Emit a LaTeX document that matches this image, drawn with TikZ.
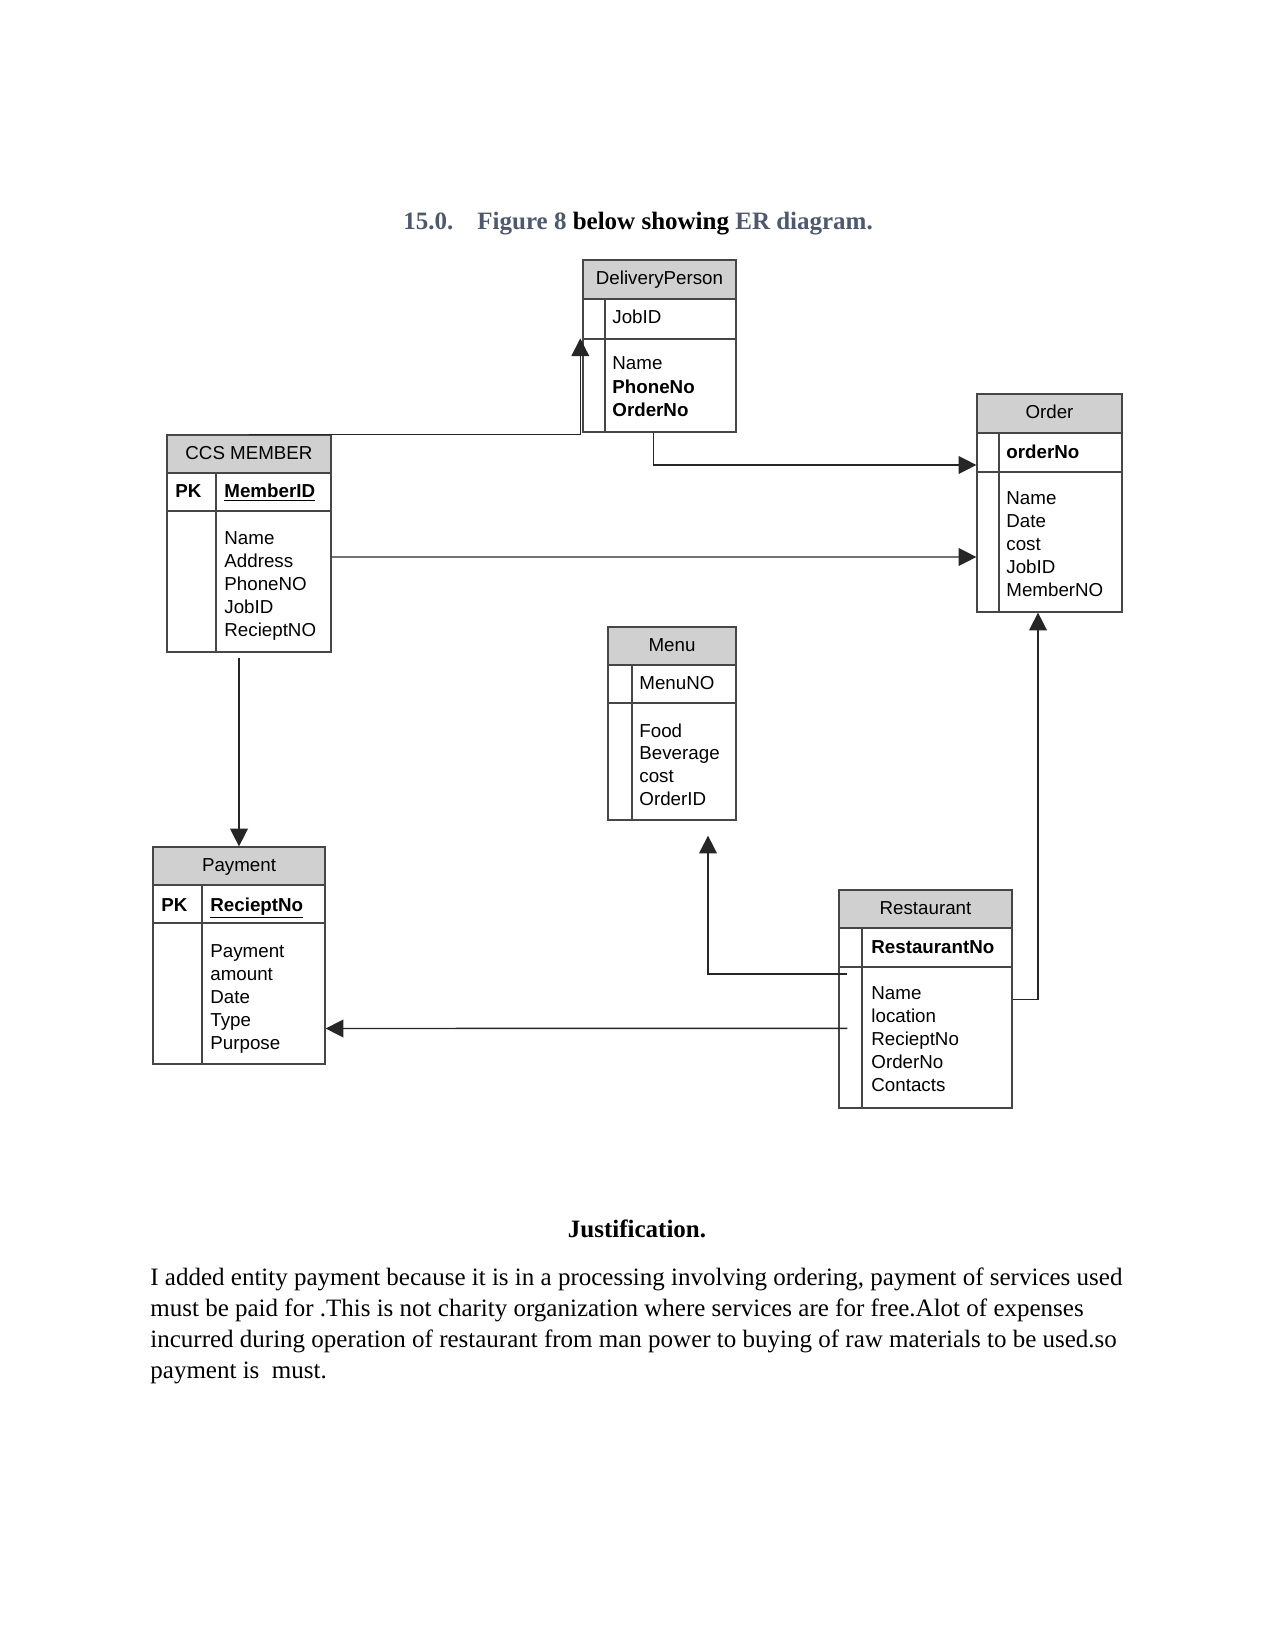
\documentclass[tikz,border=0pt]{standalone}
\usepackage{fontspec}
\setmainfont{Liberation Serif}
\newfontfamily\erfont{Liberation Sans}
\usepackage{tikz}
\usetikzlibrary{arrows.meta,positioning,calc,fit}
\definecolor{headslate}{RGB}{79,89,109}
\definecolor{hdrgray}{RGB}{208,208,208}
\definecolor{gridline}{RGB}{70,70,70}

\begin{document}
\begin{tikzpicture}[
    x=0.48pt,
    y=-0.48pt,
    every node/.style={inner sep=0pt},
    ent/.style={draw=gridline, line width=0.6pt, fit={#1}},
    enthead/.style={ent={#1}, fill=hdrgray},
    divider/.style={draw=gridline, line width=0.6pt},
    title/.style={font=\erfont\fontsize{9}{11}\selectfont, text height=4.8pt, text depth=0pt},
    field/.style={font=\erfont\fontsize{9}{11}\selectfont, anchor=base west},
    link/.style={draw=black!85, line width=0.7pt, -{Triangle[length=8.5pt, width=8.5pt]}},
    heading/.style={anchor=base west, font=\bfseries\fontsize{12}{14}\selectfont},
    bodyline/.style={anchor=base west, font=\fontsize{12}{14}\selectfont},
  ]
  \useasboundingbox (0,0) rectangle (1275,1650);

  % === Caption ===
  \node[heading, text=headslate] (secno) at (403,230) {15.0.};
  \node[heading] (figcap) at (477,230)
    {\textcolor{headslate}{Figure 8} below showing \textcolor{headslate}{ER diagram.}};

  % === DeliveryPerson ===
  \node[enthead={(583,260) (736,299)}] (dph) {};
  \node[ent={(583,299) (736,339)}] (dpk) {};
  \node[ent={(583,339) (736,432)}] (dpa) {};
  \draw[divider] (605,299) -- (605,432);
  \node[title] (dpt) at (dph.center) {DeliveryPerson};
  \node[field] (dpkey) at (612,324) {JobID};
  \foreach \t [count=\i from 0] in {Name, \textbf{PhoneNo}, \textbf{OrderNo}}
    \node[field] (dpf\i) at (612,370+23.2*\i) {\t};

  % === CCS MEMBER ===
  \node[enthead={(167,435) (331,473)}] (ccsh) {};
  \node[ent={(167,473) (331,511)}] (ccsk) {};
  \node[ent={(167,511) (331,652)}] (ccsa) {};
  \draw[divider] (216,473) -- (216,652);
  \node[title] (ccst) at (ccsh.center) {CCS MEMBER};
  \node[field, font=\erfont\bfseries\fontsize{9}{11}\selectfont] (ccspk) at (175,497) {PK};
  \node[field] (ccskey) at (224,497) {\underline{\textbf{MemberID}}};
  \foreach \t [count=\i from 0] in {Name, Address, PhoneNO, JobID, RecieptNO}
    \node[field] (ccsf\i) at (224,544+23.2*\i) {\t};

  % === Order ===
  \node[enthead={(977,394) (1122,433)}] (ordh) {};
  \node[ent={(977,433) (1122,472)}] (ordk) {};
  \node[ent={(977,472) (1122,612)}] (orda) {};
  \draw[divider] (999,433) -- (999,612);
  \node[title] (ordt) at (ordh.center) {Order};
  \node[field] (ordkey) at (1006,458) {\textbf{orderNo}};
  \foreach \t [count=\i from 0] in {Name, Date, cost, JobID, MemberNO}
    \node[field] (ordf\i) at (1006,504+23.2*\i) {\t};

  % === Menu ===
  \node[enthead={(608,627) (736,665)}] (menuh) {};
  \node[ent={(608,665) (736,703)}] (menuk) {};
  \node[ent={(608,703) (736,820)}] (menua) {};
  \draw[divider] (632,665) -- (632,820);
  \node[title] (menut) at (menuh.center) {Menu};
  \node[field] (menukey) at (639,689) {MenuNO};
  \foreach \t [count=\i from 0] in {Food, Beverage, cost, OrderID}
    \node[field] (menuf\i) at (639,737+22.8*\i) {\t};

  % === Payment ===
  \node[enthead={(153,847) (325,885)}] (payh) {};
  \node[ent={(153,885) (325,923)}] (payk) {};
  \node[ent={(153,923) (325,1064)}] (paya) {};
  \draw[divider] (202,885) -- (202,1064);
  \node[title] (payt) at (payh.center) {Payment};
  \node[field, font=\erfont\bfseries\fontsize{9}{11}\selectfont] (paypk) at (161,911) {PK};
  \node[field] (paykey) at (210,911) {\underline{\textbf{RecieptNo}}};
  \foreach \t [count=\i from 0] in {Payment, amount, Date, Type, Purpose}
    \node[field] (payf\i) at (210,957+23.1*\i) {\t};

  % === Restaurant ===
  \node[enthead={(839,890) (1012,928)}] (resth) {};
  \node[ent={(839,928) (1012,967)}] (restk) {};
  \node[ent={(839,967) (1012,1108)}] (resta) {};
  \draw[divider] (862,928) -- (862,1108);
  \node[title] (restt) at (resth.center) {Restaurant};
  \node[field] (restkey) at (871,953) {\textbf{RestaurantNo}};
  \foreach \t [count=\i from 0] in {Name, location, RecieptNo, OrderNo, Contacts}
    \node[field] (restf\i) at (871,999+23.2*\i) {\t};

  % === Relationships ===
  \draw[link] (ccsh.north) -| ([xshift=-1pt]dpa.north west);
  \draw[link] ([xshift=-3pt]dpa.south) |- ([yshift=-6pt]ordk.west);
  \draw[link] ($(ccsa.east)+(0,-24.5)$) -- ($(orda.west)+(0,15)$);
  \draw[link, shorten <=2.4pt] (payh.north |- ccsa.south) -- (payh.north);
  \draw[link] ($(resta.north west)+(9,7.5)$) -| ($(menua.south)+(36,15)$);
  \draw[link] ($(resta.north west)+(9,62)$) -- ($(paya.east)+(0,35)$);
  \draw[link] ($(resta.north east)+(0,33.3)$) -| ($(orda.south)+(-11.5,0)$);

  % === Justification ===
  \node[heading, anchor=base] (justif) at (637,1237) {Justification.};
  \foreach \t [count=\i from 0] in {
      {I added entity payment because it is in a processing involving ordering, payment of services used},
      {must be paid for .This is not charity organization where services are for free.Alot of expenses},
      {incurred during operation of restaurant from man power to buying of raw materials to be used.so},
      {payment is~ must.}}
    \node[bodyline] (body\i) at (150,1285+31*\i) {\t};

\end{tikzpicture}
\end{document}
